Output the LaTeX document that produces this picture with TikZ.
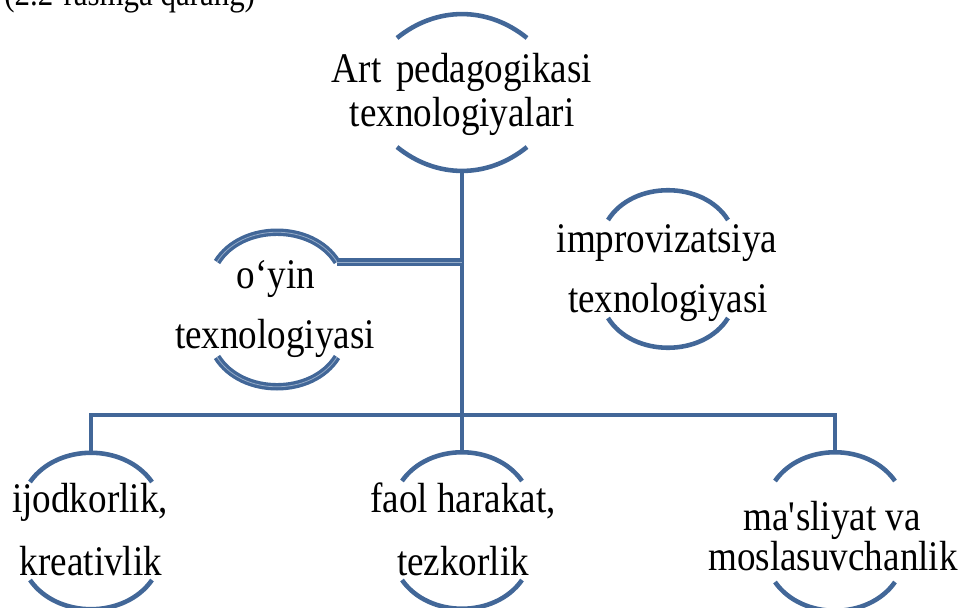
\documentclass[tikz,border=0pt]{standalone}
\usepackage{fontspec}
\setmainfont{Liberation Serif}[FakeStretch=0.88]
\definecolor{rimblue}{RGB}{66,103,152}
\definecolor{rimlight}{RGB}{150,172,200}
\tikzset{
  rim/.style={line width=2.6pt, rimblue},
  rimdbl/.style={line width=1.9pt, draw=rimblue, double=rimlight, double distance=0.45pt},
  link/.style={line width=2.8pt, rimblue},
  dlink/.style={line width=1.9pt, draw=rimblue, double=rimlight, double distance=0.45pt},
  lbl/.style={anchor=base, inner sep=0pt, font=\fontsize{24}{28}\selectfont}
}
\begin{document}
\begin{tikzpicture}[x=0.02cm, y=-0.02cm]
	\useasboundingbox (0,0) rectangle (963,608);
	\node[anchor=base west, inner sep=0pt, font=\fontsize{20}{24}\selectfont] (ref) at (4,6) {(2.2-rasmga qarang)};
	% root
	\node[lbl] (root1) at (462,83) {Art\hspace{0.35em}pedagogikasi};
	\node[lbl] (root2) at (462,127) {texnologiyalari};
	\draw[rim] (397,38) to[bend left=39] (527,38);
	\draw[rim] (397,147) to[bend right=39] (527,147);
	\coordinate (roottail) at (462,171);
	% middle row
	\node[lbl] (oyin1) at (276,288) {o‘yin};
	\node[lbl] (oyin2) at (275,348) {texnologiyasi};
	\draw[rimdbl] (217,262) to[bend left=58] (337,262);
	\draw[rimdbl] (217,357) to[bend right=58] (337,357);
	\coordinate (oyinend) at (337,262);
	\node[lbl] (impr1) at (667,252) {improvizatsiya};
	\node[lbl] (impr2) at (668,312) {texnologiyasi};
	\draw[rim] (608,220) to[bend left=58] (728,220);
	\draw[rim] (608,318) to[bend right=58] (728,318);
	% bottom row
	\node[lbl] (ijod1) at (90,512) {ijodkorlik,};
	\node[lbl] (ijod2) at (91,575) {kreativlik};
	\draw[rim] (30,482) to[bend left=55] (152,482);
	\draw[rim] (30,580) to[bend right=55] (152,580);
	\coordinate (ijodtop) at (91,452);
	\node[lbl] (faol1) at (463,512) {faol harakat,};
	\node[lbl] (faol2) at (463,575) {tezkorlik};
	\draw[rim] (402,481) to[bend left=55] (522,481);
	\draw[rim] (402,580) to[bend right=55] (522,580);
	\coordinate (faoltop) at (462,452);
	\node[lbl] (masl1) at (832,530) {ma\textquotesingle sliyat va};
	\node[lbl] (masl2) at (833,570) {moslasuvchanlik};
	\draw[rim] (775,481) to[bend left=55] (895,481);
	\draw[rim] (775,582) to[bend right=55] (895,582);
	\coordinate (masltop) at (835,452);
	% connectors
	\draw[link] (roottail) -- (faoltop);
	\draw[link] (ijodtop) -- ++(0,-37) -| (masltop);
	\draw[dlink] (oyinend) -- (oyinend -| roottail);
\end{tikzpicture}
\end{document}
